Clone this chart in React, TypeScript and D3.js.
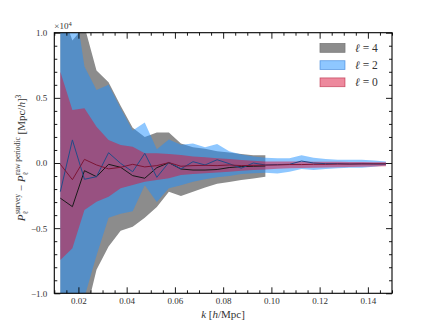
import React, { useEffect, useRef } from 'react';
import * as d3 from 'd3';

// k bin centres [h/Mpc]
const kBins = [
  0.0125, 0.0175, 0.0225, 0.0275, 0.0325, 0.0375, 0.0425, 0.0475, 0.0525, 0.0575,
  0.0625, 0.0675, 0.0725, 0.0775, 0.0825, 0.0875, 0.0925, 0.0975, 0.1025, 0.1075,
  0.1125, 0.1175, 0.1225, 0.1275, 0.1325, 0.1375, 0.1425, 0.1475,
];

// values in units of 10^4 [Mpc/h]^3
// hexadecapole (l = 4), only up to k ~ 0.1
const upperL4 = [1.2, 0.94, 1.05, 0.71, 0.62, 0.44, 0.27, 0.2, 0.235, 0.235, 0.15, 0.12, 0.11, 0.09, 0.08, 0.07, 0.06, 0.06];
const lowerL4 = [-1.5, -1.4, -1.2, -0.82, -0.64, -0.52, -0.49, -0.42, -0.337, -0.22, -0.253, -0.22, -0.188, -0.16, -0.146, -0.13, -0.119, -0.105];
const meanL4 = [-0.27, -0.335, -0.059, -0.105, -0.01, -0.033, -0.097, -0.117, -0.036, 0.002, -0.046, -0.054, -0.054, -0.05, -0.035, -0.028, -0.025, -0.023];

// quadrupole (l = 2)
const upperL2 = [1.4, 1.35, 0.74, 0.56, 0.6, 0.42, 0.25, 0.31, 0.105, 0.18, 0.14, 0.15, 0.12, 0.145, 0.09, 0.065, 0.05, 0.04, 0.036, 0.036, 0.06, 0.04, 0.03, 0.025, 0.025, 0.025, 0.02, 0.012];
const lowerL2 = [-1.5, -1.3, -1.03, -0.71, -0.42, -0.39, -0.37, -0.17, -0.3, -0.194, -0.17, -0.143, -0.125, -0.11, -0.1, -0.085, -0.078, -0.075, -0.08, -0.067, -0.046, -0.054, -0.046, -0.041, -0.036, -0.036, -0.028, -0.02];
const meanL2 = [-0.22, 0.177, -0.125, -0.105, 0.079, -0.003, -0.067, 0.074, -0.11, 0.005, -0.045, 0.01, -0.015, 0.025, -0.005, -0.04, 0.0, -0.015, -0.012, -0.01, 0.015, 0.0, -0.005, -0.005, -0.008, -0.006, -0.008, -0.008];

// monopole (l = 0)
const upperL0 = [0.7, 0.407, 0.42, 0.279, 0.177, 0.138, 0.125, 0.074, 0.074, 0.07, 0.061, 0.05, 0.045, 0.036, 0.03, 0.023, 0.018, 0.012, 0.012, 0.012, 0.012, 0.01, 0.01, 0.01, 0.008, 0.008, 0.006, 0.005];
const lowerL0 = [-0.744, -0.655, -0.36, -0.297, -0.259, -0.194, -0.169, -0.143, -0.13, -0.117, -0.092, -0.085, -0.079, -0.073, -0.067, -0.06, -0.054, -0.05, -0.044, -0.04, -0.038, -0.036, -0.034, -0.032, -0.03, -0.028, -0.026, -0.024];
const meanL0 = [-0.01, -0.128, 0.028, -0.015, -0.045, -0.033, -0.01, -0.03, -0.02, 0.003, -0.025, -0.02, -0.018, -0.02, -0.015, -0.02, -0.018, -0.016, -0.015, -0.012, -0.012, -0.01, -0.01, -0.008, -0.008, -0.007, -0.006, -0.006];

const legendLabels = ['4', '2', '0'];
const xTicks = [0.02, 0.04, 0.06, 0.08, 0.1, 0.12, 0.14];
const yTicks = [-1.0, -0.5, 0.0, 0.5, 1.0];

const FONT = "'Liberation Serif', 'DejaVu Serif', serif";
const INK = '#333';

const Plot = () => {
  const ref = useRef(null);
  const width = 436;
  const height = 327;
  const margin = { top: 32.7, right: 44, bottom: 33.7, left: 54.3 };

  useEffect(() => {
    const svg = d3.select(ref.current);
    svg.selectAll('*').remove();

    const w = width - margin.left - margin.right;
    const h = height - margin.top - margin.bottom;

    const x = d3.scaleLinear().domain([0.01, 0.15]).range([0, w]);
    const y = d3.scaleLinear().domain([-1, 1]).range([h, 0]);

    svg.append('defs').append('clipPath').attr('id', 'plotclip')
      .append('rect').attr('width', w).attr('height', h);

    const g = svg.append('g').attr('transform', `translate(${margin.left},${margin.top})`);
    const plot = g.append('g').attr('clip-path', 'url(#plotclip)');

    const band = (upper, lower) => d3.area()
      .x((d, i) => x(kBins[i]))
      .y0((d, i) => y(lower[i]))
      .y1((d, i) => y(upper[i]))(upper);

    const line = (vals) => d3.line().x((d, i) => x(kBins[i])).y(d => y(d))(vals);

    // bands
    plot.append('path').attr('d', band(upperL4, lowerL4)).attr('fill', '#8c8c8c');
    plot.append('path').attr('d', band(upperL2, lowerL2)).attr('fill', 'dodgerblue').attr('fill-opacity', 0.5);
    plot.append('path').attr('d', band(upperL0, lowerL0)).attr('fill', 'crimson').attr('fill-opacity', 0.5);

    // mean lines
    plot.append('path').attr('d', line(meanL4)).attr('fill', 'none').attr('stroke', '#1a1a1a').attr('stroke-width', 1);
    plot.append('path').attr('d', line(meanL2)).attr('fill', 'none').attr('stroke', '#234b88').attr('stroke-width', 1);
    plot.append('path').attr('d', line(meanL0)).attr('fill', 'none').attr('stroke', '#7d1535').attr('stroke-width', 1);

    // axes, ticks pointing inward on all four sides
    const xMinor = d3.range(0.01, 0.1501, 0.005).filter(v => !xTicks.some(t => Math.abs(t - v) < 1e-6));
    const yMinor = d3.range(-1, 1.001, 0.1).filter(v => !yTicks.some(t => Math.abs(t - v) < 1e-6));

    const style = (sel) => {
      sel.attr('font-family', FONT).attr('font-size', 9);
      sel.select('.domain').remove();
      sel.selectAll('line').attr('stroke', '#000').attr('stroke-width', 0.9);
      sel.selectAll('text').attr('fill', INK);
    };

    g.append('g').attr('transform', `translate(0,${h})`)
      .call(d3.axisBottom(x).tickValues(xTicks).tickSize(-6).tickPadding(4.5).tickFormat(d3.format('.2f'))).call(style);
    g.append('g').attr('transform', `translate(0,${h})`)
      .call(d3.axisBottom(x).tickValues(xMinor).tickSize(-3).tickFormat(() => '')).call(style);
    g.append('g')
      .call(d3.axisTop(x).tickValues(xTicks).tickSize(-6).tickFormat(() => '')).call(style);
    g.append('g')
      .call(d3.axisTop(x).tickValues(xMinor).tickSize(-3).tickFormat(() => '')).call(style);

    const yFmt = (d) => d3.format('.1f')(d).replace('-', '\u2212');
    g.append('g')
      .call(d3.axisLeft(y).tickValues(yTicks).tickSize(-6).tickPadding(7).tickFormat(yFmt)).call(style);
    g.append('g')
      .call(d3.axisLeft(y).tickValues(yMinor).tickSize(-3).tickFormat(() => '')).call(style);
    g.append('g').attr('transform', `translate(${w},0)`)
      .call(d3.axisRight(y).tickValues(yTicks).tickSize(-6).tickFormat(() => '')).call(style);
    g.append('g').attr('transform', `translate(${w},0)`)
      .call(d3.axisRight(y).tickValues(yMinor).tickSize(-3).tickFormat(() => '')).call(style);

    g.append('rect').attr('width', w).attr('height', h)
      .attr('fill', 'none').attr('stroke', '#000').attr('stroke-width', 1.1);

    // offset text
    const off = g.append('text').attr('x', 0).attr('y', -3.5)
      .attr('font-family', FONT).attr('font-size', 9).attr('fill', INK);
    off.append('tspan').text('\u00d710');
    off.append('tspan').attr('font-size', 6.5).attr('dy', -3.5).text('4');

    // legend
    const legend = [
      { label: legendLabels[0], fill: '#8c8c8c', stroke: '#7a7a7a', op: 1 },
      { label: legendLabels[1], fill: 'dodgerblue', stroke: '#1e70d0', op: 0.5 },
      { label: legendLabels[2], fill: 'crimson', stroke: '#b01030', op: 0.5 },
    ];
    const lg = svg.append('g').attr('transform', 'translate(320,43.5)');
    legend.forEach((it, i) => {
      const row = lg.append('g').attr('transform', `translate(0,${i * 17.2})`);
      row.append('rect').attr('width', 25).attr('height', 8.8)
        .attr('fill', it.fill).attr('fill-opacity', it.op)
        .attr('stroke', it.stroke).attr('stroke-opacity', it.op === 1 ? 1 : 0.6).attr('stroke-width', 0.8);
      const t = row.append('text').attr('x', 35).attr('y', 8.3)
        .attr('font-family', FONT).attr('font-size', 11.5).attr('fill', INK);
      t.append('tspan').attr('font-style', 'italic').text('\u2113');
      t.append('tspan').text(' = ' + it.label);
    });
  }, []);

  return <svg ref={ref} width={width} height={height} fontFamily={FONT} style={{ position: 'absolute', left: 0, top: 0 }} />;
};

const Labels = () => (
  <g fontFamily={FONT} fill={INK}>
    <text x={223} y={318} textAnchor="middle" fontSize={11}>
      <tspan fontStyle="italic">k</tspan>
      <tspan> [</tspan>
      <tspan fontStyle="italic">h</tspan>
      <tspan>/Mpc]</tspan>
    </text>
    <text transform="translate(25,158) rotate(-90)" textAnchor="middle" fontSize={11}>
      <tspan fontStyle="italic">P</tspan>
      <tspan fontSize={7.5} dy={3}>{'\u2113'}</tspan>
      <tspan fontSize={7.5} dx={-3} dy={-8}>survey</tspan>
      <tspan dy={5}>{' \u2212 '}</tspan>
      <tspan fontStyle="italic">P</tspan>
      <tspan fontSize={7.5} dy={3}>{'\u2113'}</tspan>
      <tspan fontSize={7.5} dx={-3} dy={-8}>raw periodic</tspan>
      <tspan dy={5}>{' [Mpc/'}</tspan>
      <tspan fontStyle="italic">h</tspan>
      <tspan>]</tspan>
      <tspan fontSize={7.5} dy={-4}>3</tspan>
    </text>
  </g>
);

const App = () => (
  <div style={{ position: 'absolute', left: 0, top: 0, width: 436, height: 327, background: '#fff' }}>
    <Plot />
    <svg width={436} height={327} style={{ position: 'absolute', left: 0, top: 0, pointerEvents: 'none' }}>
      <Labels />
    </svg>
  </div>
);

export default App;
